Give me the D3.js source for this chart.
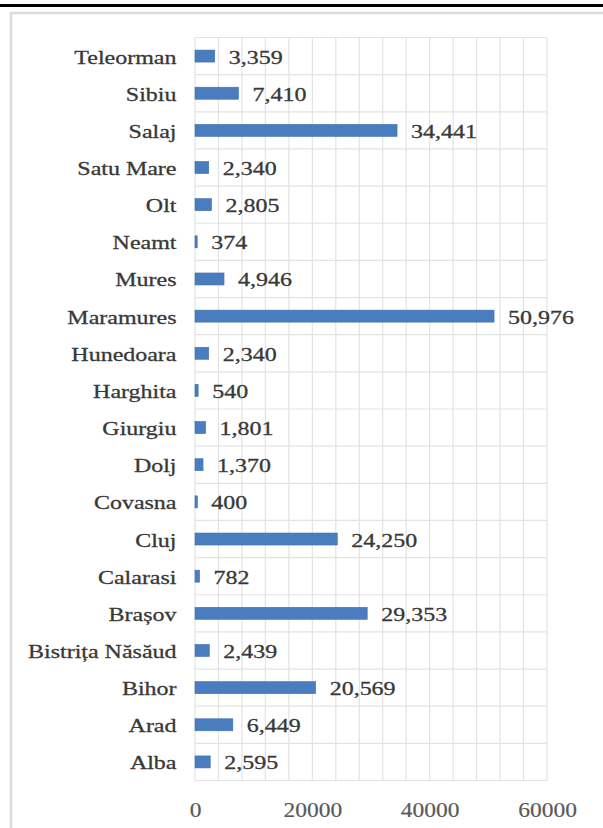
<!DOCTYPE html>
<html>
<head>
<meta charset="utf-8">
<script src="https://cdn.jsdelivr.net/npm/d3@7"></script>
<style>
  html, body { margin: 0; padding: 0; background: #fff; }
  svg { display: block; }
</style>
</head>
<body>
<svg id="chart" width="603" height="828"></svg>
<script>
// Counties, listed bottom to top as they appear on the axis
const counties = [
  "Alba", "Arad", "Bihor", "Bistrița Năsăud", "Brașov", "Calarasi", "Cluj",
  "Covasna", "Dolj", "Giurgiu", "Harghita", "Hunedoara", "Maramures", "Mures",
  "Neamt", "Olt", "Satu Mare", "Salaj", "Sibiu", "Teleorman"
];
const values = [
  2595, 6449, 20569, 2439, 29353, 782, 24250,
  400, 1370, 1801, 540, 2340, 50976, 4946,
  374, 2805, 2340, 34441, 7410, 3359
];
const xTickLabels = [0, 20000, 40000, 60000];
const xGridStep = 4000;

const SERIF = '"Liberation Serif"';
const TEXT = "#383838";

const svg = d3.select("#chart");
const W = 603;

// Rule across the top of the page
svg.append("rect").attr("x", 0).attr("y", 4).attr("width", W).attr("height", 3).attr("fill", "#000");

// Chart frame
svg.append("rect")
  .attr("x", 11).attr("y", 13).attr("width", 640).attr("height", 860)
  .attr("fill", "none").attr("stroke", "#dcdcdc").attr("stroke-width", 2.5);

const plot = { left: 195, right: 547, top: 37.5, bottom: 780.5 };

const x = d3.scaleLinear().domain([0, 60000]).range([plot.left, plot.right]);
const y = d3.scaleBand()
  .domain(counties.slice().reverse())
  .range([plot.top, plot.bottom])
  .padding(0);

const data = counties.map((c, i) => ({ county: c, value: values[i] }));

const g = svg.append("g");

// Vertical gridlines
g.append("g").selectAll("line")
  .data(d3.range(0, 60000 + 1, xGridStep))
  .join("line")
  .attr("x1", d => x(d)).attr("x2", d => x(d))
  .attr("y1", plot.top).attr("y2", plot.bottom)
  .attr("stroke", "#e3e3e3").attr("stroke-width", 1.2);

// Horizontal gridlines at category boundaries
const bounds = y.domain().map(d => y(d)).concat([plot.bottom]);
g.append("g").selectAll("line")
  .data(bounds)
  .join("line")
  .attr("x1", plot.left).attr("x2", plot.right)
  .attr("y1", d => d).attr("y2", d => d)
  .attr("stroke", "#e3e3e3").attr("stroke-width", 1.2);

// Bars
const barH = 12;
g.append("g").selectAll("rect")
  .data(data)
  .join("rect")
  .attr("x", x(0))
  .attr("y", d => y(d.county) + y.bandwidth() / 2 - barH / 2)
  .attr("width", d => x(d.value) - x(0))
  .attr("height", barH)
  .attr("fill", "#4a7dbf")
  .attr("stroke", "#3f6fae")
  .attr("stroke-width", 0.6);

const fmt = d3.format(",");
const sx = 1.23;
const baseOff = 7.5;

// Value labels
g.append("g").selectAll("text")
  .data(data)
  .join("text")
  .attr("transform", d => `translate(${x(d.value) + 14},${y(d.county) + y.bandwidth() / 2 + baseOff}) scale(${sx},1)`)
  .style("font-family", SERIF)
  .style("font-size", "19.5px")
  .attr("fill", TEXT)
  .attr("stroke", TEXT).attr("stroke-width", 0.3)
  .text(d => fmt(d.value));

// Category labels
g.append("g").selectAll("text")
  .data(data)
  .join("text")
  .attr("transform", d => `translate(176.5,${y(d.county) + y.bandwidth() / 2 + baseOff}) scale(${sx},1)`)
  .attr("text-anchor", "end")
  .style("font-family", SERIF)
  .style("font-size", "19.5px")
  .attr("fill", TEXT)
  .attr("stroke", TEXT).attr("stroke-width", 0.3)
  .text(d => d.county);

// X-axis tick labels
const xAxis = d3.axisBottom(x).tickValues(xTickLabels).tickSize(0).tickFormat(d3.format("d"));
const ax = svg.append("g").attr("transform", `translate(0,${plot.bottom})`).call(xAxis);
ax.select(".domain").remove();
ax.selectAll("text")
  .attr("y", 0).attr("dy", 0)
  .attr("transform", "translate(0,36) scale(1.12,1)")
  .style("font-family", SERIF)
  .style("font-size", "21px")
  .attr("fill", "#5a5a5a")
  .attr("stroke", "#5a5a5a").attr("stroke-width", 0.2);
</script>
</body>
</html>
